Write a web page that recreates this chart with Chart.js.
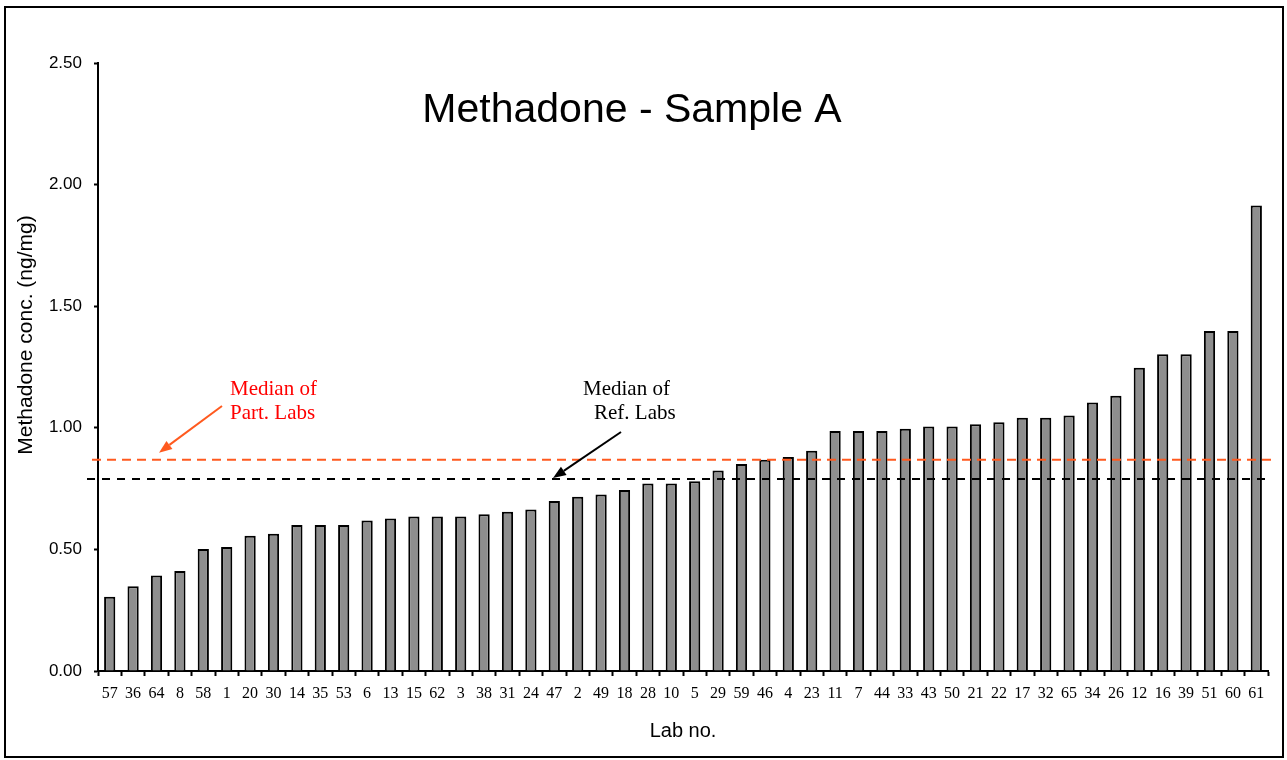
<!DOCTYPE html>
<html lang="en">
<head>
    <meta charset="UTF-8">
    <script src="https://cdn.jsdelivr.net/npm/chart.js"></script>
    <title>Methadone - Sample A</title>
    <style>
        body {
            margin: 0;
            padding: 0;
            background-color: #fff;
        }
        canvas {
            display: block;
        }
    </style>
</head>
<body>
    <canvas id="methadoneChart" width="1287" height="760"></canvas>

    <script>
        const labNos = ['57', '36', '64', '8', '58', '1', '20', '30', '14', '35', '53', '6', '13', '15', '62', '3', '38',
            '31', '24', '47', '2', '49', '18', '28', '10', '5', '29', '59', '46', '4', '23', '11', '7', '44', '33', '43',
            '50', '21', '22', '17', '32', '65', '34', '26', '12', '16', '39', '51', '60', '61'];
        const concValues = [0.305, 0.348, 0.393, 0.411, 0.502, 0.510, 0.556, 0.564, 0.600, 0.600, 0.600, 0.619, 0.627,
            0.635, 0.635, 0.635, 0.645, 0.655, 0.664, 0.699, 0.717, 0.726, 0.744, 0.771, 0.771, 0.780, 0.824, 0.851,
            0.869, 0.880, 0.906, 0.987, 0.987, 0.987, 0.996, 1.005, 1.005, 1.015, 1.023, 1.041, 1.041, 1.051, 1.104,
            1.132, 1.247, 1.302, 1.302, 1.398, 1.398, 1.914];
        const yTicks = [0, 0.5, 1.0, 1.5, 2.0, 2.5];
        const medianPartLabs = 0.869;
        const medianRefLabs = 0.789;

        const sans = '"Liberation Sans", Arial, sans-serif';
        const serif = '"Liberation Serif", "Times New Roman", serif';

        function dashedLine(ctx, x1, x2, y, color, dash) {
            ctx.save();
            ctx.strokeStyle = color;
            ctx.lineWidth = 2;
            ctx.setLineDash(dash);
            ctx.beginPath();
            ctx.moveTo(x1, y);
            ctx.lineTo(x2, y);
            ctx.stroke();
            ctx.restore();
        }

        function arrow(ctx, x1, y1, x2, y2, color) {
            const ang = Math.atan2(y2 - y1, x2 - x1);
            const len = 13, half = 5;
            const bx = x2 - len * Math.cos(ang), by = y2 - len * Math.sin(ang);
            ctx.save();
            ctx.strokeStyle = color;
            ctx.fillStyle = color;
            ctx.lineWidth = 2;
            ctx.beginPath();
            ctx.moveTo(x1, y1);
            ctx.lineTo(bx, by);
            ctx.stroke();
            ctx.beginPath();
            ctx.moveTo(x2, y2);
            ctx.lineTo(bx + half * Math.sin(ang), by - half * Math.cos(ang));
            ctx.lineTo(bx - half * Math.sin(ang), by + half * Math.cos(ang));
            ctx.closePath();
            ctx.fill();
            ctx.restore();
        }

        const decorPlugin = {
            id: 'decor',
            afterDatasetsDraw(chart) {
                const ctx = chart.ctx;
                const y = chart.scales.y;
                const yPart = y.getPixelForValue(medianPartLabs);
                const yRef = y.getPixelForValue(medianRefLabs);
                dashedLine(ctx, 92, 1276, yPart, '#ff5a1f', [9, 6]);
                dashedLine(ctx, 87, 1266, yRef, '#000', [8, 7]);

                // annotations
                ctx.save();
                ctx.font = '21px ' + serif;
                ctx.textBaseline = 'middle';
                ctx.textAlign = 'left';
                ctx.fillStyle = '#ff0000';
                ctx.fillText('Median of', 230, 389);
                ctx.fillText('Part. Labs', 230, 413);
                ctx.fillStyle = '#000';
                ctx.fillText('Median of', 583, 389);
                ctx.fillText('Ref. Labs', 594, 413);
                ctx.restore();
                arrow(ctx, 222, 406, 159, yPart - 7, '#ff5a1f');
                arrow(ctx, 621, 432, 553, yRef - 1, '#000');
            },
            afterDraw(chart) {
                const ctx = chart.ctx;
                ctx.save();
                // chart title
                ctx.fillStyle = '#000';
                ctx.font = '41px ' + sans;
                ctx.textAlign = 'center';
                ctx.textBaseline = 'alphabetic';
                ctx.fillText('Methadone - Sample A', 632, 122);
                // y axis title
                ctx.translate(26, 335);
                ctx.rotate(-Math.PI / 2);
                ctx.font = '21px ' + sans;
                ctx.textBaseline = 'middle';
                ctx.fillText('Methadone conc. (ng/mg)', 0, 0);
                ctx.restore();
                // outer frame
                ctx.save();
                ctx.strokeStyle = '#000';
                ctx.lineWidth = 2;
                ctx.strokeRect(5, 7, 1278, 750);
                ctx.restore();
            }
        };

        const ctx = document.getElementById('methadoneChart').getContext('2d');
        new Chart(ctx, {
            type: 'bar',
            data: {
                labels: labNos,
                datasets: [{
                    label: 'Methadone conc.',
                    data: concValues,
                    backgroundColor: '#8e8e8e',
                    borderColor: '#000',
                    borderWidth: 2,
                    barPercentage: 0.48,
                    categoryPercentage: 1.0
                }]
            },
            options: {
                responsive: false,
                animation: false,
                devicePixelRatio: 1,
                layout: {
                    padding: { left: 0, top: 63, right: 19, bottom: 0 }
                },
                plugins: {
                    legend: { display: false },
                    tooltip: { enabled: false }
                },
                scales: {
                    x: {
                        afterFit(scale) { scale.height = 89; },
                        grid: {
                            display: true,
                            drawOnChartArea: false,
                            drawTicks: true,
                            tickLength: 5,
                            tickWidth: 2,
                            color: '#000',
                            offset: true
                        },
                        border: { display: true, color: '#000', width: 2 },
                        ticks: {
                            color: '#000',
                            font: { family: serif, size: 16 },
                            autoSkip: false,
                            maxRotation: 0,
                            padding: 8
                        },
                        title: {
                            display: true,
                            text: 'Lab no.',
                            color: '#000',
                            font: { family: sans, size: 20 },
                            padding: { top: 0, bottom: 17 }
                        }
                    },
                    y: {
                        min: 0,
                        max: 2.5,
                        afterFit(scale) { scale.width = 98; },
                        afterBuildTicks(scale) {
                            scale.ticks = yTicks.map(v => ({ value: v }));
                        },
                        grid: {
                            display: true,
                            drawOnChartArea: false,
                            drawTicks: true,
                            tickLength: 4,
                            tickWidth: 2,
                            color: '#000'
                        },
                        border: { display: true, color: '#000', width: 2 },
                        ticks: {
                            color: '#000',
                            font: { family: sans, size: 17 },
                            padding: 12,
                            callback: v => Number(v).toFixed(2)
                        }
                    }
                }
            },
            plugins: [decorPlugin]
        });
    </script>
</body>
</html>
